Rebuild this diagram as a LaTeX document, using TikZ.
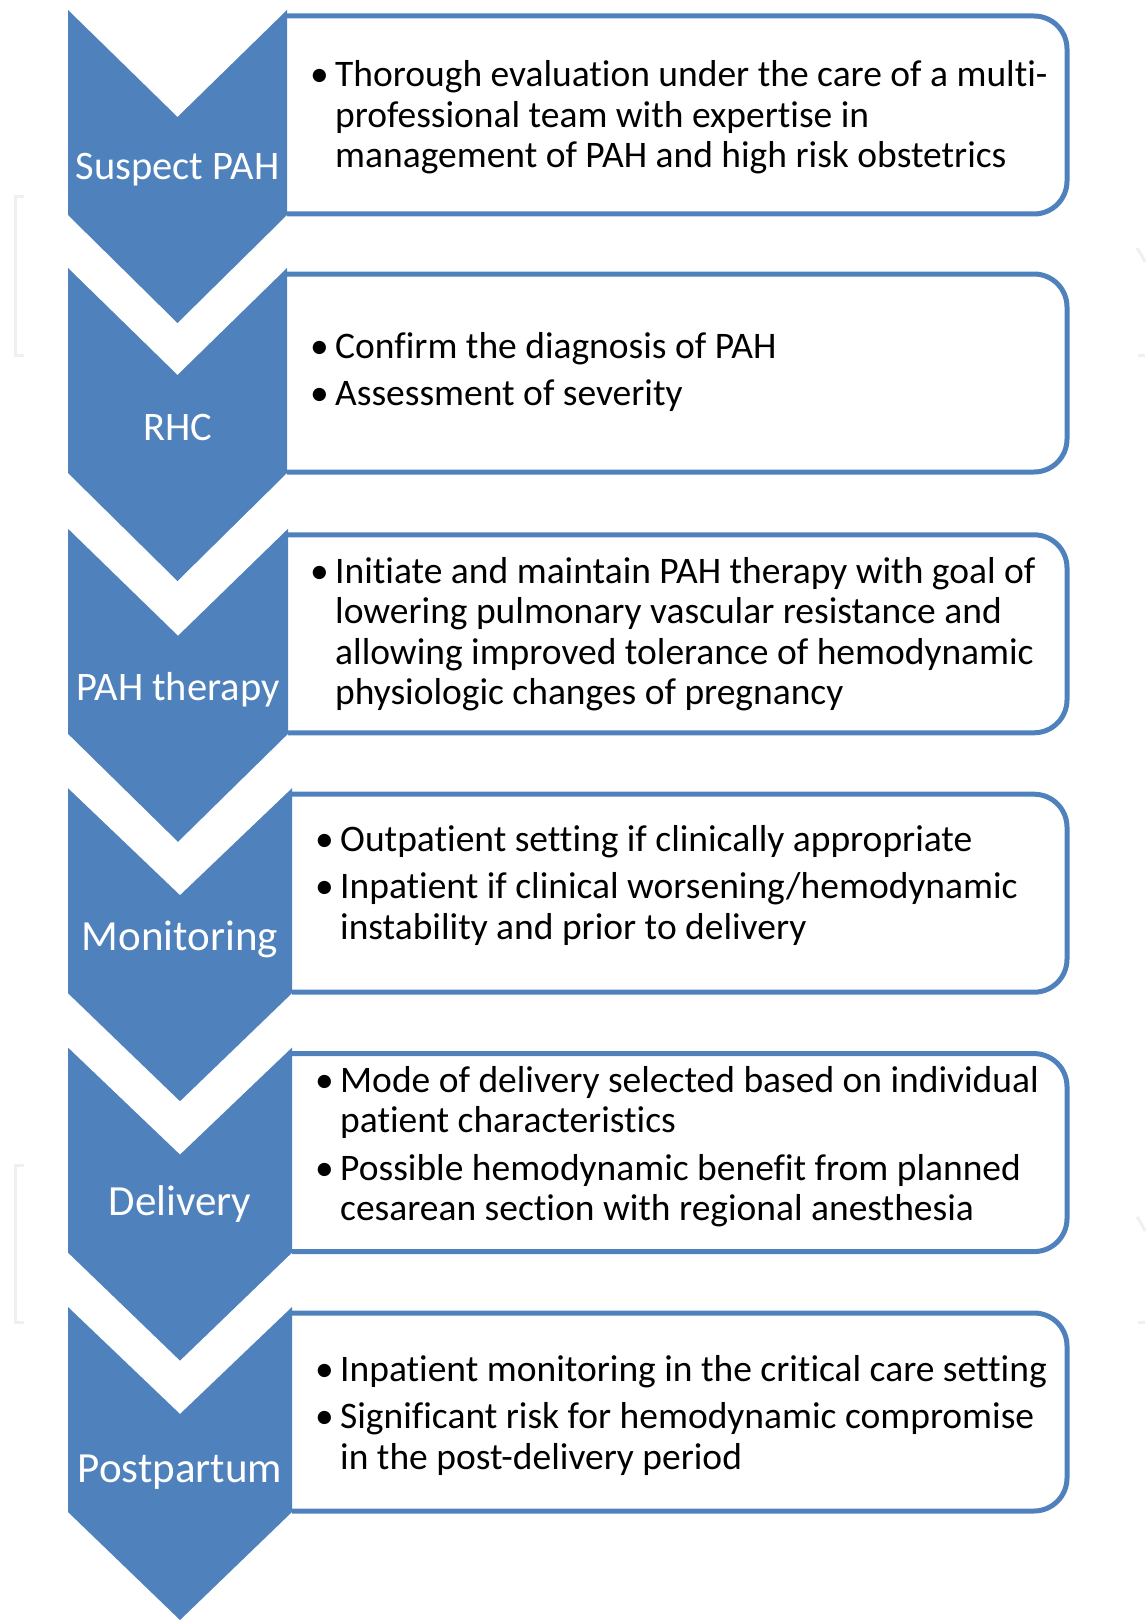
\documentclass[tikz,border=0pt]{standalone}
\usepackage{fontspec}
\setmainfont[Ligatures=NoCommon]{Carlito}
\definecolor{chev}{HTML}{4F81BD}
\definecolor{faint}{HTML}{F0F0F0}
\newcommand\bl[1]{\hbox{\makebox[26pt][l]{\hspace*{1pt}\textbullet}#1}}
\newcommand\cl[1]{\hbox{\hspace*{26pt}#1}}
\newcommand\gap{\vskip 7pt}
\tikzset{
  chevshape/.style={fill=chev, draw=none},
  boxline/.style={draw=chev, line width=5pt, rounded corners=33pt},
  lbl/.style={text=white, font=\fontsize{40.5}{46}\selectfont, inner sep=0pt, anchor=base},
  lblbig/.style={lbl, font=\fontsize{43}{48}\selectfont},
  body/.style={text=black, font=\fontsize{37.5}{40.5}\selectfont, inner sep=0pt, anchor=base west},
  faintline/.style={draw=faint, line width=3pt}
}
\begin{document}
\begin{tikzpicture}[x=1pt,y=-1pt]
\useasboundingbox (0,0) rectangle (1145,1621);
% faint marks
\draw[faintline] (24,197) -- (15,197) -- (15,355) -- (24,355);
\draw[faintline] (24,1165) -- (15,1165) -- (15,1322) -- (24,1322);
\draw[faintline] (1137,248) .. controls (1141,254) .. (1145,262);
\draw[faintline] (1138,355) -- (1145,355);
\draw[faintline] (1137,1217) .. controls (1141,1223) .. (1145,1231);
\draw[faintline] (1138,1322) -- (1145,1322);
% rows: top T, right edge R
\foreach \T/\R [count=\i] in {10/287, 268/287, 528.8/288, 788.2/292, 1047.6/292, 1307/292}{
  \pgfmathsetmacro\C{(68+\R)/2}
  \draw[boxline] (\R,\T+6) -- (1067,\T+6) -- (1067,\T+204) -- (\R,\T+204);
  \fill[chevshape] (68,\T) -- (\C,\T+107) -- (\R,\T) -- (\R,\T+205) -- (\C,\T+313) -- (68,\T+205) -- cycle;
  \coordinate (c\i) at (\C,\T);
}
% labels
\node[lbl] (l1) at (177.5,180) {Suspect PAH};
\node[lbl] (l2) at (177.5,440) {RHC};
\node[lbl] (l3) at (178,700) {PAH therapy};
\node[lblbig] (l4) at (180,950) {Monitoring};
\node[lblbig] (l5) at (180,1215) {Delivery};
\node[lblbig] (l6) at (180,1482) {Postpartum};
% texts
\node[body] (t1) at (309,87) {\vtop{%
  \bl{Thorough evaluation under the care of a multi-}
  \cl{professional team with expertise in}
  \cl{management of PAH and high risk obstetrics}}};
\node[body] (t2) at (309,358) {\vtop{%
  \bl{Confirm the diagnosis of PAH}\gap
  \bl{Assessment of severity}}};
\node[body] (t3) at (309,583) {\vtop{%
  \bl{Initiate and maintain PAH therapy with goal of}
  \cl{lowering pulmonary vascular resistance and}
  \cl{allowing improved tolerance of hemodynamic}
  \cl{physiologic changes of pregnancy}}};
\node[body] (t4) at (314,851) {\vtop{%
  \bl{Outpatient setting if clinically appropriate}\gap
  \bl{Inpatient if clinical worsening/hemodynamic}
  \cl{instability and prior to delivery}}};
\node[body] (t5) at (314,1092) {\vtop{%
  \bl{Mode of delivery selected based on individual}
  \cl{patient characteristics}\gap
  \bl{Possible hemodynamic benefit from planned}
  \cl{cesarean section with regional anesthesia}}};
\node[body] (t6) at (314,1381) {\vtop{%
  \bl{Inpatient monitoring in the critical care setting}\gap
  \bl{Significant risk for hemodynamic compromise}
  \cl{in the post-delivery period}}};
\end{tikzpicture}
\end{document}
